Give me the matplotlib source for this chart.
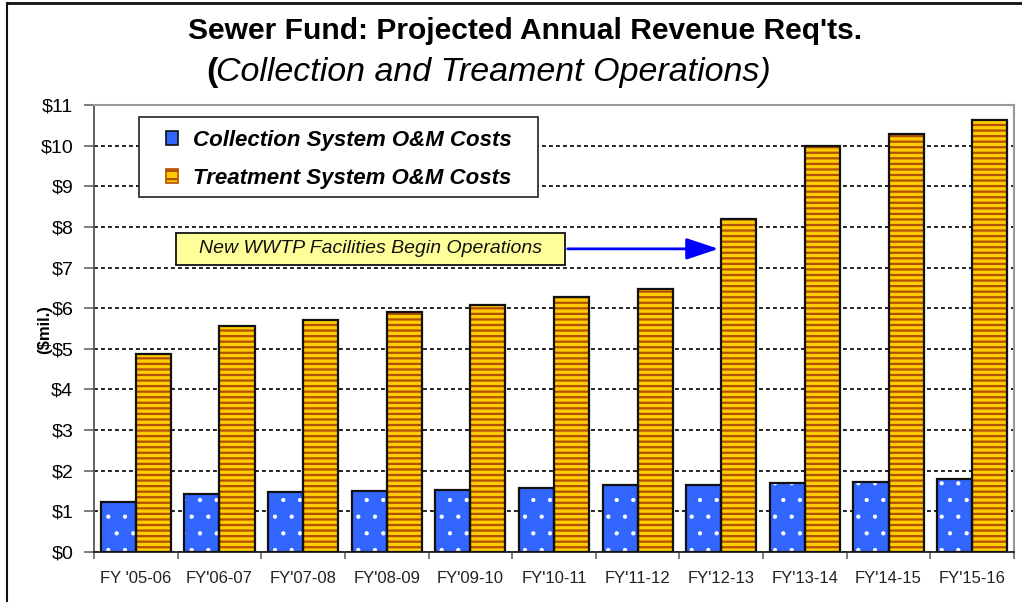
import matplotlib
matplotlib.use("Agg")
import matplotlib.pyplot as plt
import numpy as np
from matplotlib.patches import Patch, Rectangle
from matplotlib.lines import Line2D

plt.rcParams["font.family"] = ["Liberation Sans", "DejaVu Sans"]
plt.rcParams["hatch.linewidth"] = 1.6

# data
years = ["FY '05-06", "FY'06-07", "FY'07-08", "FY'08-09", "FY'09-10", "FY'10-11",
         "FY'11-12", "FY'12-13", "FY'13-14", "FY'14-15", "FY'15-16"]
collection = [1.24, 1.43, 1.47, 1.50, 1.53, 1.58, 1.65, 1.65, 1.69, 1.72, 1.80]
treatment = [4.87, 5.57, 5.71, 5.90, 6.07, 6.27, 6.47, 8.20, 10.00, 10.29, 10.63]
yticks = list(range(0, 12))
ytick_labels = ["$%d" % v for v in yticks]

blue = "#3366FF"
gold = "#FFCC00"
stripe = "#B05000"

fig = plt.figure(figsize=(10.22, 6.02), dpi=100)
ax = fig.add_axes([94 / 1022, 50 / 602, 920 / 1022, 447 / 602])

x = np.arange(len(years))
w = 0.42
# filled + hatched bars, then outline on top
dots = ax.bar(x - w / 2, collection, w, color=blue, edgecolor="white", hatch=".", linewidth=0, zorder=2)
ax.bar(x + w / 2, treatment, w, color=gold, edgecolor=stripe, hatch="---", linewidth=0, zorder=2)
for b in dots:
    if hasattr(b, "set_hatch_linewidth"):
        b.set_hatch_linewidth(0.6)
ax.bar(x - w / 2, collection, w, fill=False, edgecolor="#111111", linewidth=1.6, zorder=3)
ax.bar(x + w / 2, treatment, w, fill=False, edgecolor="#111111", linewidth=1.6, zorder=3)

ax.set_xlim(-0.5, len(years) - 0.5)
ax.set_ylim(0, 11)
ax.set_yticks(yticks)
ax.set_yticklabels(ytick_labels, fontsize=14)
ax.tick_params(axis="y", length=7, width=1.2, color="#666666", pad=8)

ax.set_xticks(np.arange(len(years) + 1) - 0.5)
ax.set_xticklabels([])
ax.tick_params(axis="x", which="major", length=5, width=1.2, color="#666666")
ax.set_xticks(x, minor=True)
ax.set_xticklabels(years, minor=True, fontsize=12, color="#222222")
ax.tick_params(axis="x", which="minor", length=0, pad=14)

ax.set_axisbelow(True)
ax.yaxis.grid(True, color="#222222", linewidth=1.4, linestyle=(0, (2, 1.6)))
for s in ["top", "right"]:
    ax.spines[s].set_color("#999999")
    ax.spines[s].set_linewidth(1.5)
ax.spines["left"].set_color("#555555")
ax.spines["left"].set_linewidth(1.3)
ax.spines["bottom"].set_color("#222222")
ax.spines["bottom"].set_linewidth(1.3)

# legend: frame drawn separately so its padding can match
ax.add_patch(Rectangle((0.049, 0.794), 0.434, 0.179, transform=ax.transAxes,
                       facecolor="white", edgecolor="#222222", linewidth=1.2, zorder=4))
handles = [Patch(facecolor=blue, edgecolor="#111111", label="Collection System O&M Costs"),
           Patch(facecolor=gold, edgecolor=stripe, hatch="--", label="Treatment System O&M Costs")]
leg = ax.legend(handles=handles, loc="upper left", bbox_to_anchor=(0.0782, 0.944),
                borderaxespad=0, borderpad=0, frameon=False,
                prop={"weight": "bold", "style": "italic", "size": 16},
                handlelength=0.55, handleheight=0.55, handletextpad=0.68,
                labelspacing=0.75)
leg.set_zorder(5)
for h in leg.legend_handles:
    h.set_linewidth(1.2)

# callout box and arrow
ax.add_patch(Rectangle((0.481, 7.06), 5.13 - 0.481, 0.79, facecolor="#FFFF99",
                       edgecolor="#111111", linewidth=1.3, zorder=4))
ax.text((0.481 + 5.13) / 2, 7.46, "New WWTP Facilities Begin Operations",
        ha="center", va="center", fontsize=14, style="italic", color="#111111", zorder=5)
ax.annotate("", xy=(7.0, 7.46), xytext=(5.13, 7.46),
            arrowprops=dict(arrowstyle="-|>,head_length=0.9,head_width=0.3",
                            color="#0000FF", lw=2, mutation_scale=22),
            zorder=5)

# titles
fig.text(525 / 1022, 1 - 31 / 602, "Sewer Fund: Projected Annual Revenue Req'ts.",
         ha="center", va="center", fontsize=21.6, fontweight="bold")
fig.text(206 / 1022, 1 - 73 / 602, "(", ha="left", va="center", fontsize=24.5, fontweight="bold")
fig.text(216 / 1022, 1 - 73 / 602, "Collection and Treament Operations)",
         ha="left", va="center", fontsize=24.5, style="italic")
fig.text(45 / 1022, 1 - 330 / 602, "($mil.)", ha="center", va="center", rotation=90,
         fontsize=12, fontweight="bold")

# outer frame lines (top and left)
fig.add_artist(Line2D([7 / 1022, 1], [1 - 3 / 602, 1 - 3 / 602], color="#111111", lw=2))
fig.add_artist(Line2D([7 / 1022, 7 / 1022], [0, 1 - 3 / 602], color="#111111", lw=1.5))

fig.savefig("out.png", dpi=100)
